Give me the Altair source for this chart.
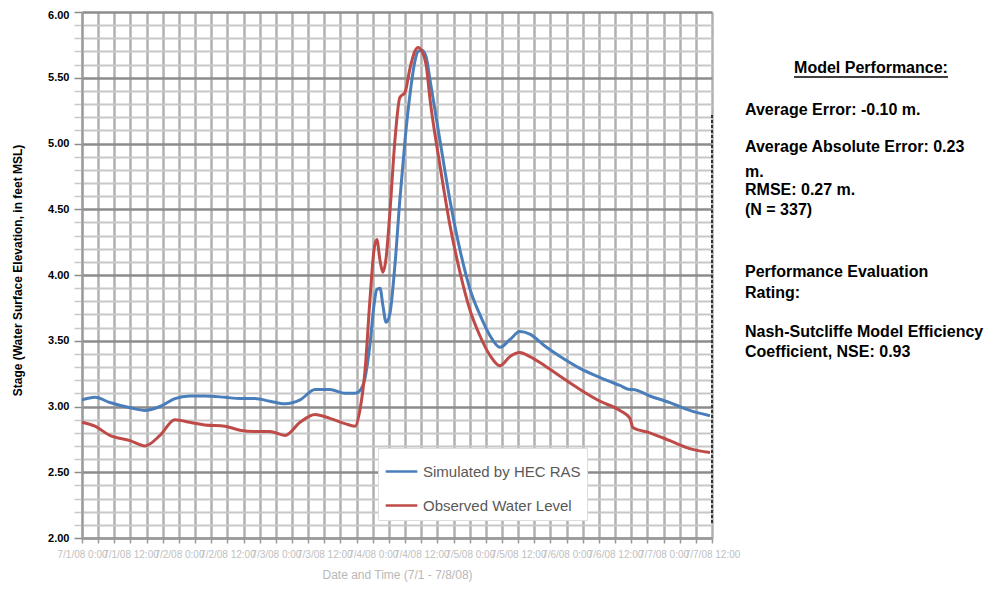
import altair as alt
import pandas as pd

# hours since start of record
hours = [0, 3.2, 6.9, 11.9, 15.6, 19.3, 23.0, 26.7, 30.4, 35.4, 39.1, 42.8, 46.5, 50.3,
         54.0, 57.7, 61.4, 65.1, 67.6, 68.8, 70.1, 71.3, 72.3, 73.0, 73.8, 74.5, 75.3,
         76.2, 77.5, 78.7, 80.0, 81.2, 82.4, 83.2, 84.2, 85.2, 86.2, 88.6, 91.1, 93.6,
         96.1, 98.5, 101.0, 103.5, 106.0, 108.4, 110.9, 114.6, 118.4, 123.3, 128.3,
         133.2, 135.7, 136.4, 140.6, 145.6, 150.5, 155.5]

simulated = [3.05, 3.07, 3.03, 2.99, 2.97, 3.00, 3.06, 3.08, 3.08, 3.07, 3.06, 3.06, 3.04,
             3.02, 3.05, 3.13, 3.13, 3.10, 3.10, 3.12, 3.22, 3.47, 3.77, 3.89, 3.90, 3.77,
             3.64, 3.70, 4.08, 4.57, 5.03, 5.37, 5.62, 5.70, 5.71, 5.66, 5.48, 5.03, 4.57,
             4.19, 3.89, 3.70, 3.54, 3.45, 3.51, 3.57, 3.55, 3.46, 3.38, 3.29, 3.22, 3.16,
             3.13, 3.13, 3.08, 3.03, 2.97, 2.93]

observed = [2.88, 2.85, 2.78, 2.74, 2.70, 2.78, 2.90, 2.88, 2.86, 2.85, 2.82, 2.81, 2.81,
            2.78, 2.88, 2.94, 2.91, 2.87, 2.85, 2.97, 3.28, 3.81, 4.19, 4.27, 4.11, 4.02,
            4.13, 4.46, 5.03, 5.35, 5.39, 5.57, 5.70, 5.73, 5.70, 5.60, 5.33, 4.84, 4.38,
            4.02, 3.73, 3.54, 3.39, 3.31, 3.38, 3.41, 3.38, 3.31, 3.23, 3.13, 3.04, 2.97,
            2.91, 2.84, 2.80, 2.74, 2.68, 2.65]

series_names = ["Simulated by HEC RAS", "Observed Water Level"]
series_colors = ["#4a7ebb", "#be4b48"]

y_ticks = [round(2.0 + 0.1 * i, 1) for i in range(41)]
x_ticks = list(range(0, 157, 4))

stats_lines = [
    "Average Error:  -0.10 m.",
    "Average Absolute Error:  0.23",
    "m.",
    "RMSE: 0.27 m.",
    "(N = 337)",
    "Performance Evaluation",
    "Rating:",
    "Nash-Sutcliffe Model Efficiency",
    "Coefficient, NSE:  0.93",
]
stats_y = [98, 135, 160, 178, 198, 260, 281, 320, 340]

df = pd.concat([
    pd.DataFrame({"Hour": hours, "Stage": simulated, "Series": series_names[0]}),
    pd.DataFrame({"Hour": hours, "Stage": observed, "Series": series_names[1]}),
])

FONT = "Liberation Sans"

x_enc = alt.X(
    "Hour:Q",
    scale=alt.Scale(domain=[0, 156], nice=False, zero=False),
    axis=alt.Axis(
        values=x_ticks,
        title="Date and Time (7/1 - 7/8/08)",
        titleColor="#b8b8b8", titleFontWeight="normal", titleFontSize=12,
        titlePadding=10,
        labelExpr="datum.value % 12 == 0 ? '7/' + (floor(datum.value/24)+1) + '/08 ' + (datum.value % 24 == 0 ? '0:00' : '12:00') : ''",
        labelColor="#c0c0c0", labelFontSize=10, labelOverlap=False, labelPadding=6,
        labelFlush=False,
        grid=True, gridColor="#b0b0b0", gridWidth=2.5,
        domainColor="#9a9a9a", domainWidth=2,
        tickColor="#9a9a9a", tickSize=5, tickWidth=1.5,
    ),
)

y_enc = alt.Y(
    "Stage:Q",
    scale=alt.Scale(domain=[2.0, 6.0], nice=False, zero=False),
    axis=alt.Axis(
        values=y_ticks,
        title="Stage (Water Surface Elevation, in feet MSL)",
        titleFontWeight="bold", titleFontSize=12, titleColor="#000000",
        titleX=-58, titleY=258,
        labelExpr="abs(round(datum.value*10) % 5) == 0 ? format(datum.value, '.2f') : ''",
        labelFontWeight="bold", labelFontSize=11, labelColor="#000000", labelPadding=5,
        labelOffset={"condition": {"test": "datum.value >= 5.99", "value": 3}, "value": 0},
        grid=True,
        gridColor={"condition": {"test": "abs(round(datum.value*10) % 5) == 0", "value": "#8c8c8c"}, "value": "#c8c8c8"},
        gridWidth={"condition": {"test": "abs(round(datum.value*10) % 5) == 0", "value": 2.5}, "value": 2},
        tickColor={"condition": {"test": "abs(round(datum.value*10) % 5) == 0", "value": "#8c8c8c"}, "value": "#c8c8c8"},
        tickSize=8, tickWidth=1.5,
        domainColor="#9a9a9a", domainWidth=2,
    ),
)

lines = alt.Chart(df).mark_line(strokeWidth=3, interpolate="monotone").encode(
    x=x_enc,
    y=y_enc,
    color=alt.Color(
        "Series:N",
        scale=alt.Scale(domain=series_names, range=series_colors),
        sort=series_names,
        legend=alt.Legend(
            title=None, orient="none", legendX=296, legendY=436,
            symbolType="stroke", symbolSize=1000, symbolStrokeWidth=2.5,
            labelFontSize=15, labelColor="#595959", labelFont=FONT,
            rowPadding=8, padding=6, fillColor="#ffffff", strokeColor="#dddddd",
            labelOffset=4, labelLimit=260,
        ),
    ),
    detail="Series:N",
)

right_edge = alt.Chart(pd.DataFrame({"a": [0]})).mark_rule(
    color="#333333", strokeWidth=2, strokeDash=[3, 2]
).encode(x=alt.value(630), y=alt.value(103), y2=alt.value(513))

layers = [lines, right_edge]

title_txt = alt.Chart(pd.DataFrame({"t": ["Model Performance:"]})).mark_text(
    font=FONT, fontSize=16, fontWeight="bold", align="center", baseline="middle", color="#000000"
).encode(text="t:N", x=alt.value(789), y=alt.value(56))
underline = alt.Chart(pd.DataFrame({"a": [0]})).mark_rule(color="#000000", strokeWidth=1.3).encode(
    x=alt.value(712), x2=alt.value(866), y=alt.value(65)
)
layers += [title_txt, underline]

for txt, yy in zip(stats_lines, stats_y):
    layers.append(
        alt.Chart(pd.DataFrame({"t": [txt]})).mark_text(
            font=FONT, fontSize=16, fontWeight="bold", align="left", baseline="middle", color="#000000"
        ).encode(text="t:N", x=alt.value(663), y=alt.value(yy))
    )

chart = alt.layer(*layers).properties(
    width=630,
    height=526,
    padding={"left": 74, "top": 4, "right": 279, "bottom": 45},
    autosize=alt.AutoSizeParams(type="none"),
).configure(font=FONT).configure_view(stroke=None)

chart.save("out.html", embed_options={"renderer": "svg", "actions": False})
